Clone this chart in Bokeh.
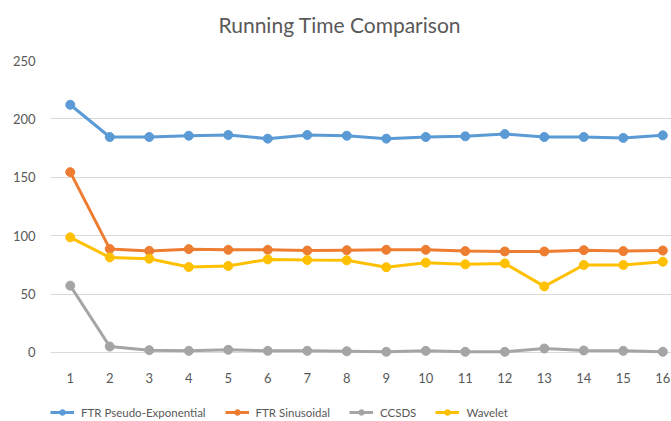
from bokeh.plotting import figure
from bokeh.layouts import column
from bokeh.models import Range1d, FixedTicker, Legend, LegendItem, Label
from bokeh.embed import file_html
from bokeh.resources import INLINE

title_text = "Running Time Comparison"
x = list(range(1, 17))
ftr_pseudo_exp = [212.1, 184.5, 184.5, 185.6, 186.2, 183.1, 186.2, 185.6, 183.1, 184.5, 185.1, 187.0, 184.5, 184.5, 183.7, 185.9]
ftr_sinusoidal = [154.4, 88.7, 87.0, 88.5, 87.9, 87.9, 87.3, 87.6, 87.9, 87.9, 86.8, 86.5, 86.5, 87.6, 86.8, 87.3]
ccsds = [57.2, 5.1, 2.0, 1.4, 2.3, 1.4, 1.4, 1.1, 0.6, 1.4, 0.6, 0.6, 3.4, 1.7, 1.4, 0.6]
wavelet = [98.6, 81.4, 80.3, 73.2, 74.1, 79.7, 79.2, 78.9, 73.0, 76.9, 75.5, 76.3, 56.6, 74.9, 74.9, 77.7]
y_ticks = [0, 50, 100, 150, 200, 250]

series = [
    ("FTR Pseudo-Exponential", ftr_pseudo_exp, "#5B9BD5"),
    ("FTR Sinusoidal", ftr_sinusoidal, "#ED7D31"),
    ("CCSDS", ccsds, "#A5A5A5"),
    ("Wavelet", wavelet, "#FFC000"),
]

FONT = "Lato"
TXT = "#595959"

def strip(height, xr, yr):
    f = figure(width=671, height=height, output_backend="svg", toolbar_location=None,
               title=None, x_range=xr, y_range=yr, x_axis_location=None, y_axis_location=None,
               min_border_left=50, min_border_right=0, min_border_top=0, min_border_bottom=0)
    f.outline_line_color = None
    f.xgrid.grid_line_color = None
    f.ygrid.grid_line_color = None
    return f

# title strip (frame spans 621 x 50 px, ranges set to pixel units)
p0 = strip(50, Range1d(0, 621), Range1d(0, 50))
p0.add_layout(Label(x=168, y=26, text=title_text, text_font=FONT, text_font_size="21px",
                    text_color=TXT, text_baseline="alphabetic", text_align="left"))

p = figure(width=671, height=335, output_backend="svg", toolbar_location=None, title=None,
           x_range=Range1d(0.5, 16.22), y_range=Range1d(-6, 250),
           min_border_left=50, min_border_right=0, min_border_top=10, min_border_bottom=22)
p.outline_line_color = None
p.background_fill_color = "white"
p.border_fill_color = "white"

p.xaxis.ticker = FixedTicker(ticks=x)
p.yaxis.ticker = FixedTicker(ticks=y_ticks)
for ax in (p.xaxis, p.yaxis):
    ax.axis_line_color = None
    ax.major_tick_line_color = None
    ax.minor_tick_line_color = None
    ax.major_label_text_font = FONT
    ax.major_label_text_font_size = "13px"
    ax.major_label_text_color = TXT
p.xaxis.major_label_standoff = 7
p.yaxis.major_label_standoff = 9
p.xgrid.grid_line_color = None
p.ygrid.grid_line_color = "#D9D9D9"
p.ygrid.grid_line_width = 1

for name, vals, col in series:
    p.line(x, vals, line_color=col, line_width=3)
    p.scatter(x, vals, size=9, fill_color=col, line_color=col, marker="circle")

# legend strip: same series, outside its (empty) view so only the legend shows
p2 = strip(36, Range1d(100, 101), Range1d(0, 1))
items = []
for name, vals, col in series:
    l = p2.line(x, vals, line_color=col, line_width=3)
    s = p2.scatter(x, vals, size=9, fill_color=col, line_color=col, marker="circle")
    items.append(LegendItem(label=name, renderers=[l, s]))

legend = Legend(items=items, orientation="horizontal", location=(0, 2),
                label_text_font=FONT, label_text_font_size="11.5px", label_text_color=TXT,
                glyph_width=24, glyph_height=14, label_height=14, label_standoff=7,
                spacing=19, padding=0, margin=0, border_line_color=None,
                background_fill_alpha=0)
p2.add_layout(legend, "center")

layout = column(p0, p, p2, spacing=0)
open("out.html", "w").write(file_html(layout, INLINE))
